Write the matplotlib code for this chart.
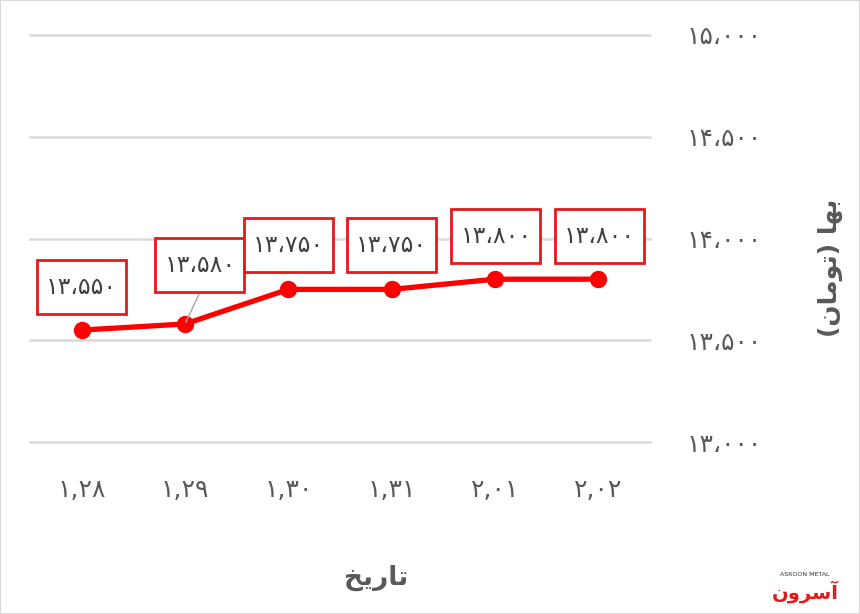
import matplotlib
matplotlib.use('Agg')
import matplotlib.pyplot as plt
from matplotlib.patches import Rectangle
from matplotlib.transforms import ScaledTranslation

plt.rcParams['font.family'] = ['DejaVu Sans']

# data
dates = ['1,28', '1,29', '1,30', '1,31', '2,01', '2,02']
prices = [13550, 13580, 13750, 13750, 13800, 13800]
y_ticks = [13000, 13500, 14000, 14500, 15000]

# arabic presentation forms, in visual order (matplotlib does no shaping)
x_title = '\uFEA6\uFEF3\uFEAD\uFE8E\uFE97'                      # تاریخ
y_title = '(\uFEE5\uFE8E\uFEE3\uFEEE\uFE97) \uFE8E\uFEEC\uFE91'  # بها (تومان)
logo_txt = '\uFEE5\uFEED\uFEAE\uFEB3\uFE81'                     # آسرون

fa = str.maketrans('0123456789', '۰۱۲۳۴۵۶۷۸۹')

def fa_num(v):
    return f'{v:,}'.replace(',', '،').translate(fa)

red = '#FF0000'
txt = '#595959'

fig = plt.figure(figsize=(8.6, 6.14), dpi=100)
ax = fig.add_axes([30/860, 1-442/614, 620/860, 407/614])

x = list(range(len(dates)))
ax.plot(x, prices, color=red, lw=3.8, marker='o', ms=11.5, zorder=3, solid_capstyle='round')

ax.set_xlim(-0.5, len(dates) - 0.5)
ax.set_ylim(13000, 15000)

# label boxes, offsets/sizes in inches from the point
bw, bh = 0.89, 0.54
offs = [(0, 0.43), (0.15, 0.59), (0, 0.44), (0, 0.44), (0.01, 0.43), (0.01, 0.43)]
for i, (v, (dx, dy)) in enumerate(zip(prices, offs)):
    tr = fig.dpi_scale_trans + ScaledTranslation(i, v, ax.transData)
    if i == 1:
        ax.plot([0.01, 0.15], [0.02, dy - bh/2], transform=tr, color='#A6A6A6',
                lw=1, zorder=4, clip_on=False)
    ax.add_patch(Rectangle((dx - bw/2, dy - bh/2), bw, bh, transform=tr,
                           fc='white', ec='#E31A1C', lw=2, zorder=5, clip_on=False))
    ax.text(dx, dy, fa_num(v), transform=tr, ha='center', va='center',
            fontsize=17, color='#404040', zorder=6)

ax.set_yticks(y_ticks)
ax.set_yticklabels([fa_num(t) for t in y_ticks], fontsize=18, color=txt)
ax.yaxis.tick_right()
ax.tick_params(axis='y', length=0, pad=26)
ax.set_xticks(x)
ax.set_xticklabels([d.translate(fa) for d in dates], fontsize=18, color=txt)
ax.tick_params(axis='x', length=0, pad=26)
ax.grid(axis='y', color='#D9D9D9', lw=1.8)
for gl in ax.get_ygridlines():
    gl.set_clip_on(False)
ax.set_axisbelow(True)
for s in ax.spines.values():
    s.set_visible(False)

fig.text(376/860, 1-578/614, x_title, ha='center', va='center',
         fontsize=19, fontweight='bold', color=txt)
fig.text(830/860, 1-268/614, y_title, ha='center', va='center', rotation=90,
         fontsize=18, fontweight='bold', color=txt)

# logo text
fig.text(805/860, 1-592/614, logo_txt, ha='center', va='center',
         fontsize=14, fontweight='bold', color='#E31A1C')
fig.text(805/860, 1-574/614, 'ASROON METAL', ha='center', va='center',
         fontsize=4.5, color='#333333')

# frame
fig.patches.append(Rectangle((0, 0), 1, 1, transform=fig.transFigure,
                             fill=False, ec='#D9D9D9', lw=1.5))

fig.savefig('out.png', dpi=100)
